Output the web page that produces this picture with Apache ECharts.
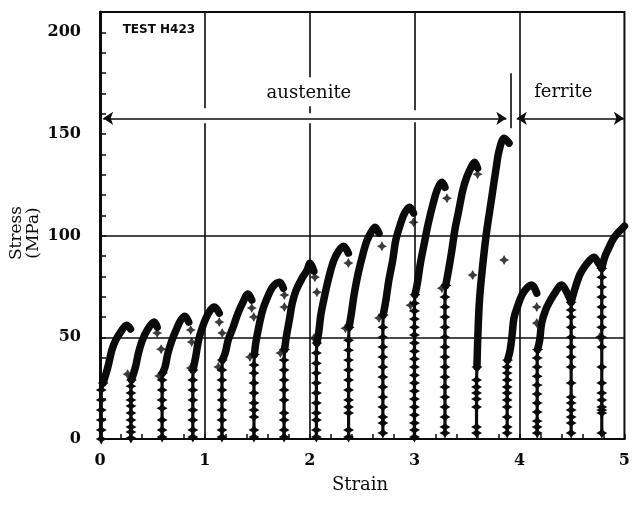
<!DOCTYPE html>
<html>
<head>
<meta charset="utf-8">
<script src="https://cdn.jsdelivr.net/npm/echarts@6/dist/echarts.min.js"></script>
<style>
  html, body { margin: 0; padding: 0; background: #fff; }
  #chart { width: 633px; height: 506px; }
</style>
</head>
<body>
<div id="chart"></div>
<script>
// Incremental loading–unloading record of test H423: stress (MPa) against strain.

const strainTicks = [0, 1, 2, 3, 4, 5];
const stressTicks = [0, 50, 100, 150, 200];

// Strain at which each reload column rises from zero stress
const columnStrain = [0.012, 0.295, 0.592, 0.885, 1.163, 1.468, 1.755, 2.063, 2.370,
                      2.697, 2.998, 3.289, 3.590, 3.882, 4.168, 4.492, 4.784];

// Sparse points climbing each reload column (stress, MPa)
const columnStress = [
  [0, 4.4, 9.3, 14.3, 19.2, 24.1],
  [0.5, 3.4, 5.9, 9.3, 12.8, 16.2, 19.2, 22.6, 26.0],
  [1.0, 4.4, 9.3, 15.1, 19.2, 24.1, 29.0],
  [1.0, 4.4, 9.3, 14.3, 19.2, 24.1, 29.0],
  [1.0, 4.4, 9.3, 14.3, 19.2, 24.1, 29.0, 33.9],
  [1.0, 4.4, 10.8, 14.3, 17.7, 22.6, 27.5, 32.4, 36.4],
  [1.0, 4.4, 9.3, 12.8, 19.2, 24.1, 29.0, 33.9, 38.8],
  [1.0, 4.4, 9.3, 12.8, 17.7, 22.6, 27.5, 32.4, 37.3, 42.3],
  [1.0, 4.4, 12.8, 15.7, 19.2, 24.1, 29.0, 33.9, 38.8, 43.7, 48.6],
  [2.9, 7.9, 10.8, 15.7, 20.6, 25.6, 30.5, 35.4, 40.3, 45.2, 50.1, 55.0],
  [1.0, 4.4, 7.9, 11.8, 15.7, 19.7, 23.6, 27.5, 31.4, 35.4, 39.3, 43.2, 47.2, 51.1, 55.0, 59.0, 62.9, 66.8],
  [2.9, 5.9, 10.8, 15.7, 20.6, 25.6, 30.5, 35.4, 40.3, 45.2, 50.1, 55.0, 60.0, 64.9, 69.8],
  [2.9, 5.9, 15.7, 19.7, 22.6, 25.6, 29.0],
  [2.9, 5.9, 10.8, 15.7, 19.2, 22.6, 25.6, 29.0, 32.4, 35.4],
  [2.9, 5.9, 8.8, 13.3, 17.7, 22.1, 26.5, 30.9, 35.4, 39.8],
  [2.9, 7.9, 10.8, 14.3, 17.7, 20.6, 27.5, 35.4, 40.3, 45.2, 50.1, 55.0, 60.0, 63.4],
  [2.9, 12.8, 14.3, 15.7, 19.2, 22.6, 27.5, 35.4, 45.2, 50.1, 55.0, 60.0, 64.9, 69.8, 74.7, 79.6]
];

// Dense loading branch of each cycle, up to and just past its peak [strain, stress]
const loadingBranches = [
  [[0.030, 27.5], [0.075, 35.4], [0.113, 43.7], [0.150, 48.6], [0.197, 52.6], [0.254, 56.0], [0.291, 54.1]],
  [[0.300, 29.0], [0.338, 35.4], [0.367, 42.3], [0.404, 48.6], [0.451, 53.6], [0.517, 57.5], [0.545, 55.0]],
  [[0.596, 32.4], [0.620, 35.4], [0.648, 42.3], [0.686, 48.6], [0.733, 54.5], [0.771, 58.5], [0.808, 60.4], [0.846, 57.5]],
  [[0.887, 33.9], [0.912, 40.3], [0.940, 48.6], [0.977, 55.0], [1.015, 60.0], [1.053, 63.4], [1.090, 64.9], [1.137, 61.9]],
  [[1.166, 38.8], [1.194, 42.3], [1.222, 48.6], [1.269, 55.0], [1.316, 61.9], [1.363, 67.3], [1.410, 71.3], [1.447, 68.3]],
  [[1.472, 41.5], [1.485, 47.2], [1.513, 55.0], [1.551, 63.4], [1.598, 69.8], [1.645, 74.7], [1.711, 77.1], [1.748, 74.2]],
  [[1.760, 44.0], [1.776, 50.1], [1.805, 58.5], [1.833, 66.8], [1.870, 73.2], [1.927, 79.1], [1.974, 83.0], [2.002, 86.5], [2.039, 82.6]],
  [[2.068, 47.2], [2.086, 52.6], [2.105, 60.9], [2.133, 68.3], [2.180, 79.1], [2.227, 87.5], [2.274, 92.4], [2.321, 94.8], [2.368, 91.4]],
  [[2.375, 55.0], [2.397, 61.9], [2.425, 71.7], [2.462, 81.6], [2.509, 91.4], [2.547, 97.8], [2.585, 101.7], [2.622, 104.2], [2.660, 101.2]],
  [[2.700, 61.0], [2.726, 68.3], [2.754, 78.1], [2.791, 88.0], [2.820, 97.8], [2.867, 106.1], [2.904, 111.1], [2.951, 114.0], [2.989, 111.1]],
  [[3.003, 71.0], [3.026, 76.7], [3.055, 86.5], [3.092, 96.3], [3.130, 106.1], [3.177, 116.0], [3.214, 122.4], [3.261, 126.3], [3.289, 123.8]],
  [[3.296, 75.5], [3.318, 81.6], [3.355, 92.9], [3.383, 102.7], [3.421, 112.5], [3.459, 122.4], [3.496, 128.7], [3.534, 133.2], [3.571, 136.1], [3.600, 133.2]],
  [[3.594, 35.4], [3.602, 50.0], [3.618, 68.3], [3.647, 84.5], [3.684, 101.2], [3.731, 117.4], [3.778, 133.7], [3.806, 142.0], [3.853, 147.9], [3.900, 145.5]],
  [[3.886, 38.8], [3.910, 43.7], [3.929, 51.1], [3.947, 59.5], [3.985, 65.8], [4.023, 70.8], [4.070, 74.2], [4.117, 75.7], [4.164, 71.7]],
  [[4.172, 44.0], [4.192, 48.6], [4.211, 57.0], [4.248, 63.4], [4.295, 68.3], [4.342, 72.2], [4.398, 75.7], [4.464, 70.8], [4.492, 67.3]],
  [[4.492, 67.3], [4.530, 74.2], [4.577, 81.1], [4.624, 85.0], [4.671, 88.0], [4.709, 89.4], [4.746, 87.0], [4.784, 84.0]],
  [[4.784, 84.0], [4.812, 89.4], [4.850, 93.9], [4.887, 97.8], [4.934, 101.2], [4.981, 103.7], [5.000, 104.7]]
];

// Loose unloading points dropping away from the peaks [strain, stress]
const unloadPoints = [
  [0.263, 31.9], [0.545, 52.1], [0.583, 44.2], [0.564, 31.0], [0.865, 53.6], [0.874, 47.7],
  [0.865, 34.9], [1.137, 57.5], [1.165, 52.1], [1.128, 35.4], [1.447, 64.4], [1.466, 60.0],
  [1.430, 40.3], [1.758, 70.8], [1.758, 64.9], [1.720, 42.3], [2.049, 79.6], [2.068, 72.2],
  [2.040, 49.6], [2.368, 86.5], [2.340, 54.5], [2.688, 94.8], [2.660, 59.5], [2.989, 106.6],
  [2.960, 65.8], [3.308, 118.4], [3.260, 74.2], [3.600, 130.2], [3.553, 80.6], [3.853, 88.0],
  [4.164, 64.9], [4.164, 57.0], [4.765, 50.1]
];

// Phase bands marked across the top
const phaseLabels = ['austenite', 'ferrite'];
const phaseBoundary = 3.914;

const INK = '#0b0b0b';
const STAR = 'path://M0,-10L3.6,-3.6L10,0L3.6,3.6L0,10L-3.6,3.6L-10,0L-3.6,-3.6Z';

// Vertical grid lines, broken where the phase arrow crosses them
const verticalRuns = {
  1: [[0, 155.3], [162.7, 210]],
  2: [[0, 155.3], [160.2, 163.6], [177.9, 210]],
  3: [[0, 155.8], [161.7, 210]],
  4: [[0, 210]]
};
const gridSegments = [];
Object.keys(verticalRuns).forEach(k => {
  const x = Number(k);
  verticalRuns[k].forEach(([a, b]) => gridSegments.push([{ coord: [x, a] }, { coord: [x, b] }]));
});
[50, 100].forEach(s => gridSegments.push([{ coord: [0, s] }, { coord: [5, s] }]));

const arrowY = 157.7;

const series = [];
series.push({
  type: 'line', data: [], z: 1, silent: true,
  markLine: {
    silent: true, symbol: ['none', 'none'], label: { show: false },
    lineStyle: { color: INK, width: 1.6, type: 'solid' },
    emphasis: { disabled: true },
    data: gridSegments
  }
});
series.push({
  type: 'line', data: [], z: 5, silent: true,
  markLine: {
    silent: true, symbol: ['arrow', 'arrow'], symbolSize: 10, label: { show: false },
    lineStyle: { color: INK, width: 1.6, type: 'solid' },
    emphasis: { disabled: true },
    data: [
      [{ coord: [0.03, arrowY] }, { coord: [phaseBoundary - 0.04, arrowY] }],
      [{ coord: [phaseBoundary + 0.06, arrowY] }, { coord: [4.995, arrowY] }]
    ]
  }
});
series.push({
  type: 'line', data: [], z: 5, silent: true,
  markLine: {
    silent: true, symbol: ['none', 'none'], label: { show: false },
    lineStyle: { color: INK, width: 1.6, type: 'solid' },
    emphasis: { disabled: true },
    data: [[{ coord: [phaseBoundary, 152.8] }, { coord: [phaseBoundary, 179.9] }]]
  }
});

columnStrain.forEach((x, i) => {
  const column = columnStress[i].map(s => [x, s]);
  column.push(loadingBranches[i][0]);
  series.push({
    type: 'line', data: column, z: 3, silent: true,
    symbol: STAR, symbolSize: 11, showSymbol: true,
    lineStyle: { color: INK, width: 3.2 }, itemStyle: { color: INK }
  });
  series.push({
    type: 'line', data: loadingBranches[i], z: 4, silent: true,
    smooth: 0.35, symbol: 'none',
    lineStyle: { color: INK, width: 7.5, cap: 'round', join: 'round' }
  });
});

series.push({
  type: 'scatter', data: unloadPoints, z: 4, silent: true,
  symbol: STAR, symbolSize: 10, itemStyle: { color: INK }
});

const chart = echarts.init(document.getElementById('chart'));
chart.setOption({
  animation: false,
  backgroundColor: '#fff',
  grid: { left: 100, right: 1, top: 12, bottom: 67, show: true, borderColor: INK, borderWidth: 2 },
  xAxis: {
    type: 'value', min: 0, max: 5, interval: 1,
    axisLine: { show: true, onZero: false, lineStyle: { color: INK, width: 2 } },
    axisTick: { show: true, inside: true, length: 5, lineStyle: { color: INK, width: 1.5 } },
    minorTick: { show: true, splitNumber: 5, length: 5, lineStyle: { color: INK, width: 1.5 } },
    axisLabel: {
      color: INK, fontFamily: 'DejaVu Serif', fontWeight: 'bold', fontSize: 16, margin: 14,
      formatter: v => strainTicks.includes(v) ? String(v) : ''
    },
    splitLine: { show: false }
  },
  yAxis: {
    type: 'value', min: 0, max: 210, interval: 10,
    axisLine: { show: true, lineStyle: { color: INK, width: 3 } },
    axisTick: { show: true, inside: true, length: 6, lineStyle: { color: INK, width: 1.5 } },
    axisLabel: {
      color: INK, fontFamily: 'DejaVu Serif', fontWeight: 'bold', fontSize: 16, margin: 19,
      formatter: v => stressTicks.includes(v) ? String(v) : ''
    },
    splitLine: { show: false }
  },
  series: series
});

const at = (x, y) => chart.convertToPixel({ gridIndex: 0 }, [x, y]);
const austenitePos = at(1.992, 170.0);
const ferritePos = at(4.417, 170.5);
const testPos = at(0.216, 201.0);
const serif = '18px "DejaVu Serif"';

chart.setOption({
  graphic: [
    { type: 'text', x: austenitePos[0], y: austenitePos[1], z: 10,
      style: { text: phaseLabels[0], font: serif, fill: INK, align: 'center', verticalAlign: 'middle' } },
    { type: 'text', x: ferritePos[0], y: ferritePos[1], z: 10,
      style: { text: phaseLabels[1], font: serif, fill: INK, align: 'center', verticalAlign: 'middle' } },
    { type: 'text', x: testPos[0], y: testPos[1], z: 10,
      style: { text: 'TEST H423', font: 'bold 12px "DejaVu Sans"', fill: INK, align: 'left', verticalAlign: 'middle' } },
    { type: 'text', x: 360, y: 485, z: 10,
      style: { text: 'Strain', font: serif, fill: INK, align: 'center', verticalAlign: 'middle' } },
    { type: 'text', x: 25, y: 233, rotation: Math.PI / 2, z: 10,
      style: { text: 'Stress\n(MPa)', font: '17px "DejaVu Serif"', lineHeight: 17, fill: INK, align: 'center', verticalAlign: 'middle' } }
  ]
});
</script>
</body>
</html>
